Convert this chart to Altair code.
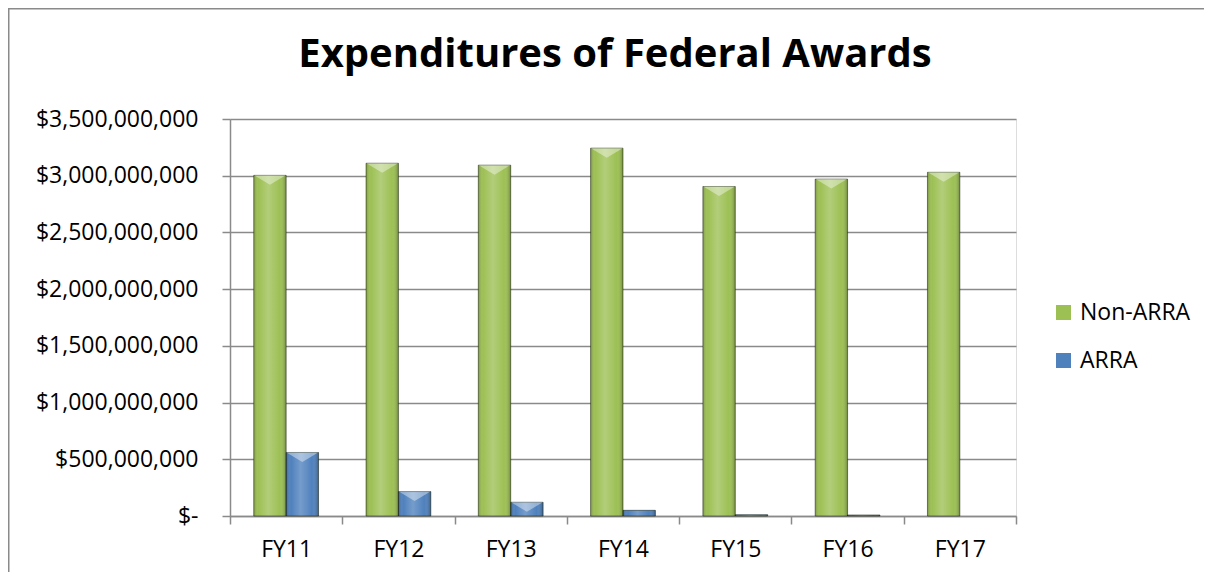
import altair as alt
import pandas as pd

years = ["FY11", "FY12", "FY13", "FY14", "FY15", "FY16", "FY17"]
non_arra = [3.003e9, 3.110e9, 3.093e9, 3.243e9, 2.905e9, 2.970e9, 3.030e9]
arra = [0.560e9, 0.215e9, 0.121e9, 0.050e9, 0.012e9, 0.009e9, 0.0]
series = ["Non-ARRA", "ARRA"]
colors = ["#9dc054", "#4f81bd"]
y_ticks = [0, 5e8, 1e9, 1.5e9, 2e9, 2.5e9, 3e9, 3.5e9]

rows = []
for i, yr in enumerate(years):
    rows.append({"year": yr, "series": series[0], "value": non_arra[i]})
    rows.append({"year": yr, "series": series[1], "value": arra[i]})
df = pd.DataFrame(rows)

W, H = 786, 397
PAD_L, PAD_T = 222, 111
PAD_R, PAD_B = 1196 - PAD_L - W, 564 - PAD_T - H
FONT = "Open Sans"
GRAY = "#8a8a8a"

x_enc = alt.X(
    "year:N", sort=years,
    scale=alt.Scale(paddingInner=0, paddingOuter=0),
    axis=alt.Axis(title=None, tickBand="extent", tickSize=8, tickColor=GRAY,
                  tickWidth=1.5, domainColor=GRAY, domainWidth=1.5,
                  labelFont=FONT, labelFontSize=23, labelColor="#000000",
                  labelPadding=14, labelAngle=0, grid=False),
)
xo_enc = alt.XOffset("series:N", sort=series,
                     scale=alt.Scale(paddingOuter=0.733, paddingInner=0))
y_enc = alt.Y(
    "value:Q",
    scale=alt.Scale(domain=[0, 3.5e9], nice=False, zero=True),
    axis=alt.Axis(title=None, values=y_ticks, grid=True, gridColor=GRAY,
                  gridWidth=1.5, tickSize=8, tickColor=GRAY, tickWidth=1.5,
                  domainColor=GRAY, domainWidth=1.5,
                  labelFont=FONT, labelFontSize=23, labelColor="#000000",
                  labelPadding=24,
                  labelExpr="datum.value == 0 ? '$-\u00a0\u00a0' : '$' + format(datum.value, ',')"),
)

bars = alt.Chart(df).mark_bar().encode(
    x=x_enc, xOffset=xo_enc, y=y_enc,
    color=alt.Color("series:N", sort=series,
                    scale=alt.Scale(domain=series, range=colors),
                    legend=alt.Legend(title=None, orient="none", legendX=822,
                                      legendY=182, symbolType="square",
                                      symbolSize=225, symbolStrokeWidth=0,
                                      labelFont=FONT, labelFontSize=23,
                                      labelColor="#000000", labelOffset=5,
                                      rowPadding=24)),
)

shine = alt.Chart(df).transform_filter("datum.value > 0").mark_bar(
    color=alt.LinearGradient(
        gradient="linear", x1=0, x2=1, y1=0, y2=0,
        stops=[alt.GradientStop(color="rgba(0,0,0,0.22)", offset=0),
               alt.GradientStop(color="rgba(255,255,255,0.0)", offset=0.15),
               alt.GradientStop(color="rgba(255,255,255,0.22)", offset=0.45),
               alt.GradientStop(color="rgba(255,255,255,0.0)", offset=0.8),
               alt.GradientStop(color="rgba(0,0,0,0.28)", offset=1)]),
    stroke="rgba(20,30,10,0.5)", strokeWidth=1,
).encode(x=x_enc, xOffset=xo_enc, y=y_enc)

bevel = alt.Chart(df).transform_filter("datum.value > 1e8").mark_point(
    shape="M-1,0 L1,0 L0,0.6 Z", filled=True, color="#ffffff", opacity=0.4,
    size=1000, strokeWidth=0,
).encode(x=x_enc, xOffset=xo_enc, y=y_enc)

frame_df = pd.DataFrame({"k": [0]})
frame_left = alt.Chart(frame_df).mark_rule(color=GRAY, strokeWidth=3).encode(
    x=alt.value(-PAD_L), y=alt.value(-PAD_T), y2=alt.value(H + PAD_B))
frame_top = alt.Chart(frame_df).mark_rule(color=GRAY, strokeWidth=3).encode(
    x=alt.value(-PAD_L), x2=alt.value(W + PAD_R), y=alt.value(-PAD_T))

chart = alt.layer(bars, shine, bevel, frame_left, frame_top).properties(
    width=W, height=H,
    title=alt.Title("Expenditures of Federal Awards", font=FONT, fontSize=40,
                    fontWeight="bold", color="#000000", anchor="middle",
                    frame="group", dx=-8, offset=-100, baseline="alphabetic"),
    autosize=alt.AutoSizeParams(type="none"),
    padding={"left": PAD_L, "top": PAD_T, "right": PAD_R, "bottom": PAD_B},
).configure_view(stroke=None).configure(background="#ffffff")

chart.save("out.html", embed_options={"renderer": "svg", "actions": False})
